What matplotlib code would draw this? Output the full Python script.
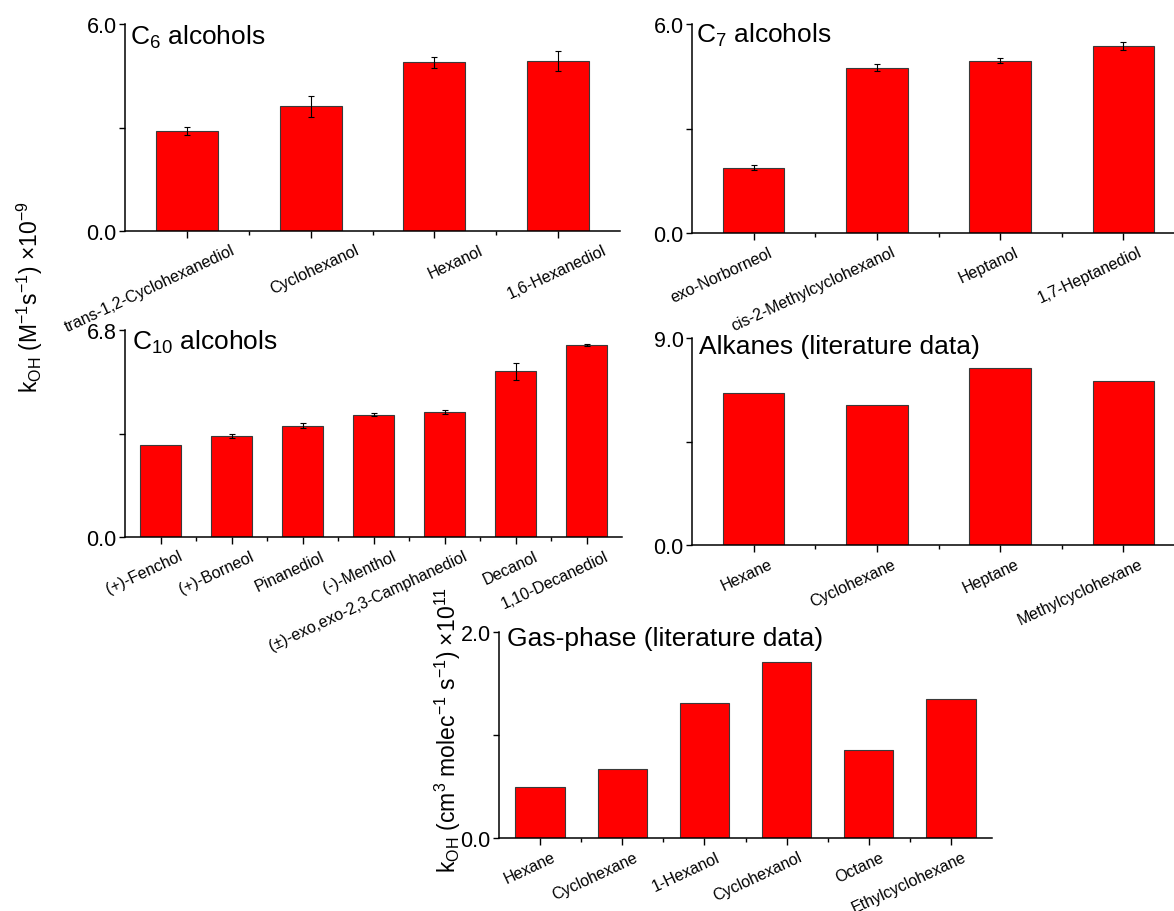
import matplotlib
matplotlib.use("Agg")
import matplotlib.pyplot as plt
from matplotlib.transforms import ScaledTranslation

plt.rcParams['font.family'] = ['Liberation Sans', 'DejaVu Sans']
plt.rcParams['mathtext.fontset'] = 'custom'
plt.rcParams['mathtext.rm'] = 'Liberation Sans'
plt.rcParams['mathtext.it'] = 'Liberation Sans:italic'
plt.rcParams['mathtext.bf'] = 'Liberation Sans:bold'

# C6 alcohols (x1e9 M-1 s-1)
c6_names = ['trans-1,2-Cyclohexanediol', 'Cyclohexanol', 'Hexanol', '1,6-Hexanediol']
c6_k = [2.89, 3.61, 4.89, 4.93]
c6_err = [0.12, 0.30, 0.16, 0.29]

# C7 alcohols
c7_names = ['exo-Norborneol', 'cis-2-Methylcyclohexanol', 'Heptanol', '1,7-Heptanediol']
c7_k = [1.87, 4.74, 4.95, 5.37]
c7_err = [0.07, 0.10, 0.08, 0.11]

# C10 alcohols (fenchol has no error bar)
c10_names = ['(+)-Fenchol', '(+)-Borneol', 'Pinanediol', '(-)-Menthol',
             '(±)-exo,exo-2,3-Camphanediol', 'Decanol', '1,10-Decanediol']
c10_k = [3.02, 3.33, 3.65, 4.01, 4.10, 5.44, 6.31]
c10_err = [0.0, 0.07, 0.08, 0.05, 0.07, 0.27, 0.04]

# alkanes, literature
alk_names = ['Hexane', 'Cyclohexane', 'Heptane', 'Methylcyclohexane']
alk_k = [6.61, 6.07, 7.70, 7.11]

# gas phase, literature (x1e-11 cm3 molec-1 s-1)
gas_names = ['Hexane', 'Cyclohexane', '1-Hexanol', 'Cyclohexanol', 'Octane', 'Ethylcyclohexane']
gas_k = [0.50, 0.67, 1.31, 1.71, 0.85, 1.35]

W, H = 1174, 912
fig = plt.figure(figsize=(W / 100, H / 100), dpi=100)


def rect(left, right, top, bottom):
    return [left / W, 1 - bottom / H, (right - left) / W, (bottom - top) / H]


def panel(r, names, vals, err, ymax, ytop_label, title, title_xy, width, dx):
    ax = fig.add_axes(r)
    x = list(range(1, len(names) + 1))
    ax.bar(x, vals, width=width, color='#ff0000', edgecolor='#3a3a3a', linewidth=0.8, zorder=2)
    if err is not None:
        ex = [xi for xi, e in zip(x, err) if e > 0]
        ey = [v for v, e in zip(vals, err) if e > 0]
        ee = [e for e in err if e > 0]
        ax.errorbar(ex, ey, yerr=ee, fmt='none', ecolor='black', elinewidth=0.8,
                    capsize=2.5, capthick=0.8, zorder=3)
    ax.set_xlim(0.5, len(names) + 0.5)
    ax.set_ylim(0, ymax)
    ax.spines['top'].set_visible(False)
    ax.spines['right'].set_visible(False)
    for s in ['left', 'bottom']:
        ax.spines[s].set_linewidth(1.1)
    ax.set_yticks([0, ymax / 2, ymax])
    ax.set_yticklabels(['0.0', '', ytop_label], fontsize=15.5)
    ax.tick_params(axis='y', direction='out', length=4, width=1, pad=2)
    ax.set_xticks(x)
    ax.set_xticks([i + 0.5 for i in x[:-1]], minor=True)
    ax.tick_params(axis='x', which='major', direction='out', length=5, width=1, pad=3)
    ax.tick_params(axis='x', which='minor', direction='out', length=3, width=1)
    labels = ax.set_xticklabels(names, rotation=25, ha='right', va='top',
                                rotation_mode='anchor', fontsize=11.5)
    off = ScaledTranslation(dx / 100, 0, fig.dpi_scale_trans)
    for lab in labels:
        lab.set_transform(lab.get_transform() + off)
    fig.text(title_xy[0] / W, 1 - title_xy[1] / H, title, fontsize=19, va='baseline', ha='left')
    return ax


panel(rect(125, 620, 25, 232), c6_names, c6_k, c6_err, 6.0, '6.0',
      r'C$_{6}$ alcohols', (130, 45), 0.5, 44)
panel(rect(692, 1185, 25, 234), c7_names, c7_k, c7_err, 6.0, '6.0',
      r'C$_{7}$ alcohols', (696, 43), 0.5, 14)
panel(rect(125, 622, 331, 538), c10_names, c10_k, c10_err, 6.8, '6.8',
      r'C$_{10}$ alcohols', (132, 350), 0.58, 18)
panel(rect(692, 1185, 339, 546), alk_names, alk_k, None, 9.0, '9.0',
      'Alkanes (literature data)', (699, 354), 0.5, 15)
panel(rect(499, 992, 633, 839), gas_names, gas_k, None, 2.0, '2.0',
      'Gas-phase (literature data)', (507, 646), 0.6, 11)

fig.text(30 / W, 1 - 297 / H,
         r'k$_{\mathrm{OH}}$ (M$^{-1}$s$^{-1}$) ×10$^{-9}$',
         rotation=90, ha='center', va='center', fontsize=16.5)
fig.text(448 / W, 1 - 730 / H,
         r'k$_{\mathrm{OH}}$ (cm$^{3}$ molec$^{-1}$ s$^{-1}$) ×10$^{11}$',
         rotation=90, ha='center', va='center', fontsize=16.5)

fig.savefig('out.png', dpi=100)
